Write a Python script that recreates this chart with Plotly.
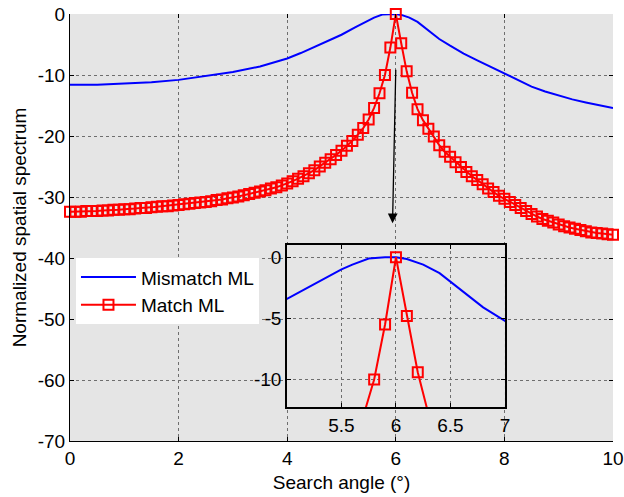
import plotly.graph_objects as go

# ---------------- data ----------------
angle_match = [round(i * 0.1, 1) for i in range(101)]
match_ml = [
    -32.4, -32.4, -32.4, -32.3, -32.3, -32.3, -32.2, -32.2, -32.1, -32.1,
    -32.0, -32.0, -31.9, -31.8, -31.8, -31.7, -31.6, -31.5, -31.5, -31.4,
    -31.3, -31.2, -31.1, -31.0, -30.9, -30.8, -30.7, -30.5, -30.4, -30.2,
    -30.1, -29.9, -29.7, -29.5, -29.3, -29.1, -28.9, -28.6, -28.4, -28.1,
    -27.8, -27.4, -27.0, -26.6, -26.1, -25.6, -25.0, -24.4, -23.8, -23.1,
    -22.4, -21.6, -20.8, -19.8, -18.7, -17.3, -15.4, -13.0, -10.0, -5.5,
    0.0,
    -4.8, -9.4, -12.9, -15.6, -17.4, -18.8, -20.1, -21.5, -22.6, -23.4,
    -24.3, -25.1, -25.9, -26.6, -27.2, -27.9, -28.6, -29.2, -29.8, -30.3,
    -30.8, -31.3, -31.8, -32.3, -32.8, -33.2, -33.6, -33.9, -34.2, -34.5,
    -34.8, -35.0, -35.2, -35.4, -35.6, -35.8, -35.9, -36.0, -36.1, -36.2,
]

angle_mismatch = [0, 0.5, 1, 1.5, 2, 2.5, 3, 3.5, 4, 4.25, 4.5, 4.75, 5, 5.25,
                  5.5, 5.6, 5.75, 5.9, 6, 6.1, 6.25, 6.4, 6.5, 6.65, 6.8, 7,
                  7.25, 7.5, 7.75, 8, 8.25, 8.5, 8.75, 9, 9.25, 9.5, 9.75, 10]
mismatch_ml = [-11.6, -11.6, -11.4, -11.2, -10.8, -10.2, -9.5, -8.6, -7.3,
               -6.4, -5.4, -4.4, -3.4, -2.2, -1.0, -0.6, -0.1, 0.0, 0.0,
               -0.15, -0.6, -1.3, -2.0, -3.0, -4.1, -5.2, -6.5, -7.6, -8.7,
               -9.8, -10.9, -11.9, -12.7, -13.4, -14.0, -14.5, -15.0, -15.4]

x_ticks = [0, 2, 4, 6, 8, 10]
x_ticktext = ["0", "2", "4", "6", "8", "10"]
y_ticks = [0, -10, -20, -30, -40, -50, -60, -70]
y_ticktext = ["0", "-10", "-20", "-30", "-40", "-50", "-60", "-70"]

inset_x_ticks = [5.5, 6, 6.5, 7]
inset_x_ticktext = ["5.5", "6", "6.5", "7"]
inset_y_ticks = [0, -5, -10]
inset_y_ticktext = ["0", "-5", "-10"]

series_names = ["Mismatch ML", "Match ML"]
x_title = "Search angle (°)"
y_title = "Normalized spatial spectrum"

# ---------------- style ----------------
FONT = "Arial, Liberation Sans, sans-serif"
FS = 19
BLUE = "#0000ff"
RED = "#ff0000"
GRID = "#6e6e6e"

fig = go.Figure()

marker_style = dict(symbol="square-open", size=10, color=RED,
                    line=dict(width=2, color=RED))

# main traces
fig.add_trace(go.Scatter(x=angle_mismatch, y=mismatch_ml, mode="lines",
                         name=series_names[0], line=dict(color=BLUE, width=2),
                         cliponaxis=False, xaxis="x", yaxis="y"))
fig.add_trace(go.Scatter(x=angle_match, y=match_ml, mode="lines+markers",
                         name=series_names[1], line=dict(color=RED, width=2),
                         marker=marker_style,
                         cliponaxis=False, xaxis="x", yaxis="y"))

# inset traces
fig.add_trace(go.Scatter(x=angle_mismatch, y=mismatch_ml, mode="lines",
                         showlegend=False, line=dict(color=BLUE, width=2),
                         xaxis="x2", yaxis="y2"))
fig.add_trace(go.Scatter(x=angle_match, y=match_ml, mode="lines+markers",
                         showlegend=False, line=dict(color=RED, width=2),
                         marker=marker_style,
                         xaxis="x2", yaxis="y2"))

# dummy trace for mirrored tick axes (top/right)
fig.add_trace(go.Scatter(x=[None], y=[None], showlegend=False,
                         hoverinfo="skip", xaxis="x3", yaxis="y3"))

ix0, ix1 = 0.3996, 0.801
iy0, iy1 = 0.0796, 0.459

tickfont = dict(family=FONT, size=FS, color="black")

fig.update_layout(
    width=624, height=497,
    margin=dict(l=70, r=11, t=14, b=56, autoexpand=False),
    paper_bgcolor="white",
    plot_bgcolor="#e5e5e5",
    font=dict(family=FONT, size=FS, color="black"),
    showlegend=True,
    legend=dict(x=0.011, y=0.428, xanchor="left", yanchor="top",
                bgcolor="white", borderwidth=0, itemwidth=55,
                font=dict(family=FONT, size=FS, color="black"),
                tracegroupgap=0),
    xaxis=dict(domain=[0, 1], range=[0, 10], tickvals=x_ticks,
               ticktext=x_ticktext, ticks="inside", ticklen=4,
               tickcolor="black", showline=True, linecolor="black",
               linewidth=1, mirror=False, showgrid=True, gridcolor=GRID,
               griddash="dot", gridwidth=1, zeroline=False,
               tickfont=tickfont, anchor="y", automargin=False,
               title=dict(text=x_title, font=dict(family=FONT, size=FS),
                          standoff=7)),
    yaxis=dict(domain=[0, 1], range=[-70, 0], tickvals=y_ticks,
               ticktext=y_ticktext, ticks="inside", ticklen=4,
               tickcolor="black", showline=True, linecolor="black",
               linewidth=1, mirror=False, showgrid=True, gridcolor=GRID,
               griddash="dot", gridwidth=1, zeroline=False,
               tickfont=tickfont, anchor="x", automargin=False,
               title=dict(text=y_title, font=dict(family=FONT, size=FS),
                          standoff=6)),
    xaxis3=dict(overlaying="x", matches="x", side="top", anchor="y",
                tickvals=x_ticks, ticks="inside", ticklen=4,
                tickcolor="black", showline=False, showgrid=False,
                zeroline=False, showticklabels=False, automargin=False),
    yaxis3=dict(overlaying="y", matches="y", side="right", anchor="x",
                tickvals=y_ticks, ticks="inside", ticklen=4,
                tickcolor="black", showline=False, showgrid=False,
                zeroline=False, showticklabels=False, automargin=False),
    xaxis2=dict(domain=[ix0, ix1], range=[5, 7], anchor="y2",
                tickvals=inset_x_ticks, ticktext=inset_x_ticktext,
                ticks="inside", ticklen=4, tickcolor="black",
                showline=True, linecolor="black", linewidth=1.5,
                mirror="ticks", showgrid=True, gridcolor=GRID,
                griddash="dot", gridwidth=1, zeroline=False,
                tickfont=tickfont, automargin=False),
    yaxis2=dict(domain=[iy0, iy1], range=[-12.25, 1], anchor="x2",
                tickvals=inset_y_ticks, ticktext=inset_y_ticktext,
                ticks="inside", ticklen=4, tickcolor="black",
                showline=True, linecolor="black", linewidth=1.5,
                mirror="ticks", showgrid=True, gridcolor=GRID,
                griddash="dot", gridwidth=1, zeroline=False,
                tickfont=tickfont, automargin=False),
    shapes=[dict(type="rect", xref="paper", yref="paper",
                 x0=ix0, x1=ix1, y0=iy0, y1=iy1,
                 fillcolor="#f2f2f2", line=dict(width=0), layer="below")],
    annotations=[dict(x=5.94, y=-34.3, ax=6.0, ay=-8.9, xref="x", yref="y",
                      axref="x", ayref="y", showarrow=True, arrowhead=2,
                      arrowsize=1.5, arrowwidth=1.3, arrowcolor="black",
                      text="")],
)

fig.write_html("out.html")
